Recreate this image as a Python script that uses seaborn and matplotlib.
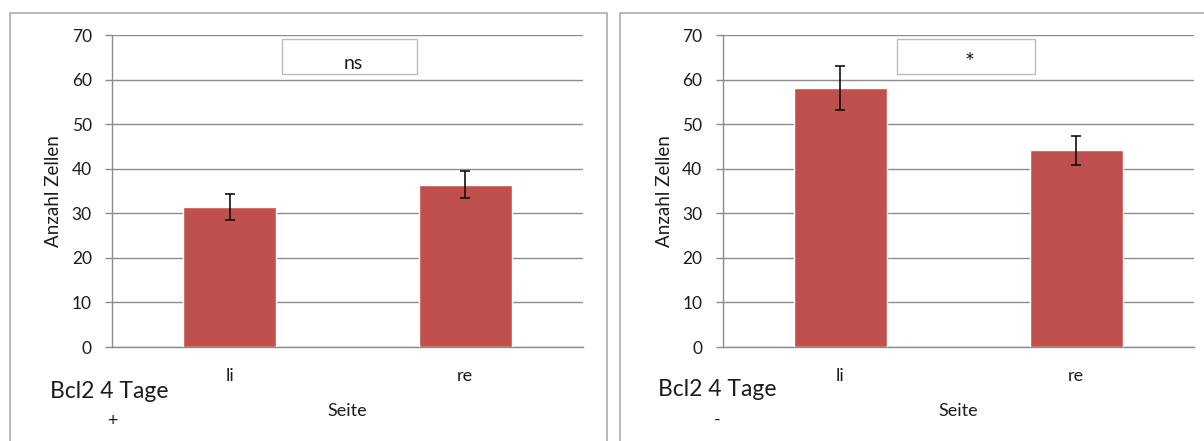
import matplotlib
matplotlib.use("Agg")
import matplotlib.pyplot as plt
from matplotlib.patches import Rectangle
import seaborn as sns
import pandas as pd

# Cell counts per side (li = left, re = right), mean and error
sides = ["li", "re"]
plus_means = [31.5, 36.4]
plus_errors = [2.9, 3.0]
minus_means = [58.1, 44.1]
minus_errors = [5.0, 3.3]

panel_labels = ["+", "-"]
significance = ["ns", "*"]
y_ticks = [0, 10, 20, 30, 40, 50, 60, 70]

sns.set_theme(style="white")
plt.rcParams["font.family"] = ["Lato", "DejaVu Sans"]

BAR_COLOR = "#C0504D"
GRID_COLOR = "#8c8c8c"
TEXT_COLOR = "#1c1c1c"
FRAME_COLOR = "#ababab"

fig = plt.figure(figsize=(12.04, 4.41), dpi=100)
W, H = 1204.0, 441.0

# plot areas in pixel units: (left, right), y axis from 347 (0) to 35 (70)
plot_x = [(112, 583), (722.5, 1194)]
Y0, Y70 = 347, 35
frames = [(10, 607), (620, 1215)]
box_spans = [(282, 417), (897, 1035)]
mark_sizes = [14, 17]
title_pos = [(50, 392), (658, 389)]
sign_pos = [(112, 421), (717, 420)]

for i, (means, errs) in enumerate([(plus_means, plus_errors), (minus_means, minus_errors)]):
    # outer chart frame
    fx0, fx1 = frames[i]
    fig.patches.append(Rectangle((fx0 / W, -0.02), (fx1 - fx0) / W, (H - 12.5) / H + 0.02,
                                 transform=fig.transFigure, fill=False,
                                 edgecolor=FRAME_COLOR, linewidth=1.2))

    px0, px1 = plot_x[i]
    ax = fig.add_axes([px0 / W, (H - Y0) / H, (px1 - px0) / W, (Y0 - Y70) / H])
    df = pd.DataFrame({"Seite": sides, "Anzahl Zellen": means})
    sns.barplot(data=df, x="Seite", y="Anzahl Zellen", color=BAR_COLOR,
                saturation=1, width=0.395, errorbar=None, ax=ax, zorder=3)
    centers = [p.get_x() + p.get_width() / 2 for p in ax.patches]
    heights = [p.get_height() for p in ax.patches]
    ax.errorbar(centers, heights, yerr=errs, fmt="none", ecolor="#111111",
                elinewidth=1.2, capsize=3.8, capthick=1.2, zorder=4)

    ax.set_xlim(-0.5, 1.5)
    ax.set_ylim(0, 70)
    ax.set_yticks(y_ticks)
    ax.yaxis.grid(True, color=GRID_COLOR, linewidth=1.0, zorder=0)
    ax.set_axisbelow(True)

    # category boundaries carry the tick marks, names sit between them
    ax.set_xticks([-0.5, 0.5, 1.5])
    ax.set_xticklabels([])
    ax.set_xticks([0, 1], minor=True)
    ax.set_xticklabels(sides, minor=True)
    ax.tick_params(axis="x", which="major", length=6, width=1.0, color=GRID_COLOR, direction="out")
    ax.tick_params(axis="x", which="minor", length=0, pad=15, labelsize=13, labelcolor=TEXT_COLOR)
    ax.tick_params(axis="y", length=5, width=1.0, color=GRID_COLOR, direction="out",
                   pad=9.5, labelsize=12.5, labelcolor=TEXT_COLOR, left=True)

    for s in ["top", "right"]:
        ax.spines[s].set_visible(False)
    for s in ["left", "bottom"]:
        ax.spines[s].set_color(GRID_COLOR)
        ax.spines[s].set_linewidth(1.0)

    axw = px1 - px0
    axh = Y0 - Y70
    ax.set_xlabel("Seite", fontsize=13, color=TEXT_COLOR)
    ax.xaxis.set_label_coords(0.5, (Y0 - 403) / axh)
    ax.set_ylabel("Anzahl Zellen", fontsize=13.5, color=TEXT_COLOR)
    ax.yaxis.set_label_coords((62 - 112) / 472, 0.5)

    # significance box
    bx0, bx1 = box_spans[i]
    r0 = (bx0 - px0) / axw
    r1 = (bx1 - px0) / axw
    ax.add_patch(Rectangle((r0, (Y0 - 74) / axh), r1 - r0, 35 / axh,
                           transform=ax.transAxes, fill=True, facecolor="white",
                           edgecolor="#bdbdbd", linewidth=1.0, zorder=5))
    ax.text((r0 + r1) / 2 + 4 / axw, (Y0 - 69) / axh, significance[i], transform=ax.transAxes,
            ha="center", va="baseline", fontsize=mark_sizes[i], color=TEXT_COLOR, zorder=6)

    tx, ty = title_pos[i]
    fig.text(tx / W, (H - ty) / H, "Bcl2 4 Tage", ha="left", va="center",
             fontsize=16.5, color=TEXT_COLOR)
    sx, sy = sign_pos[i]
    fig.text(sx / W, (H - sy) / H, panel_labels[i], ha="center", va="center",
             fontsize=13, color=TEXT_COLOR)

fig.savefig("out.png", dpi=100, facecolor="white")
